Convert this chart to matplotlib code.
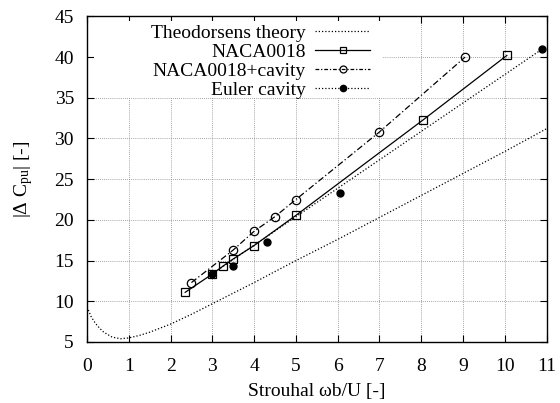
import matplotlib
matplotlib.use("Agg")
import matplotlib.pyplot as plt
from matplotlib.patches import Rectangle

plt.rcParams["font.family"] = ["Liberation Serif", "DejaVu Serif"]
plt.rcParams["mathtext.fontset"] = "custom"
plt.rcParams["mathtext.rm"] = "Liberation Serif"
plt.rcParams["mathtext.it"] = "Liberation Serif:italic"

# Theodorsen theory curve
theo_x = [0.0, 0.1, 0.2, 0.3, 0.4, 0.6, 0.8, 1.0, 1.25, 1.5, 2.0, 2.5, 3.0,
          4.0, 5.0, 6.0, 7.0, 8.0, 9.0, 10.0, 11.0]
theo_y = [9.3, 8.1, 7.3, 6.7, 6.2, 5.6, 5.4, 5.5, 5.8, 6.2, 7.2, 8.4, 9.7,
          12.3, 15.0, 17.6, 20.3, 23.0, 25.7, 28.4, 31.2]

# NACA0018
naca_x = [2.35, 3.0, 3.25, 3.5, 4.0, 5.0, 8.05, 10.05]
naca_y = [11.1, 13.35, 14.3, 15.2, 16.85, 20.55, 32.3, 40.2]

# NACA0018 + cavity
cav_x = [2.5, 3.5, 4.0, 4.5, 5.0, 7.0, 9.05]
cav_y = [12.3, 16.3, 18.6, 20.4, 22.5, 30.8, 40.0]

# Euler cavity points and its fitted line
euler_x = [3.0, 3.5, 4.3, 6.05, 10.9]
euler_y = [13.4, 14.35, 17.3, 23.3, 41.0]
euler_line_x = [3.0, 10.9]
euler_line_y = [13.4, 41.0]

FS = 14

fig = plt.figure(figsize=(5.6, 4.03), dpi=100)
ax = fig.add_axes([0.1554, 0.1514, 0.8205, 0.8079])
ax.set_axisbelow(True)

ax.plot(theo_x, theo_y, color="black", lw=0.9, ls=(0, (1, 1.6)), zorder=2)
ax.plot(naca_x, naca_y, color="black", lw=0.9, ls="-", zorder=2)
ax.plot(naca_x, naca_y, ls="none", marker="s", ms=6, mfc="none", mec="black",
        mew=0.9, zorder=3)
ax.plot(cav_x, cav_y, color="black", lw=0.9, ls=(0, (5, 2, 1, 2)), zorder=2)
ax.plot(cav_x, cav_y, ls="none", marker="o", ms=6, mfc="none", mec="black",
        mew=0.9, zorder=3)
ax.plot(euler_line_x, euler_line_y, color="black", lw=0.9, ls=(0, (1, 1.6)),
        zorder=2)
ax.plot(euler_x, euler_y, ls="none", marker="o", ms=5, color="black", zorder=3)

# legend entries (gnuplot style: text right aligned, sample on right)
h1, = ax.plot([], [], color="black", lw=0.9, ls=(0, (1, 1.6)))
h2, = ax.plot([], [], color="black", lw=0.9, ls="-", marker="s", ms=5,
              mfc="none", mec="black", mew=0.9)
h3, = ax.plot([], [], color="black", lw=0.9, ls=(0, (3, 1.5, 1, 1.5)),
              marker="o", ms=5, mfc="none", mec="black", mew=0.9)
h4, = ax.plot([], [], color="black", lw=0.9, ls=(0, (1, 1.6)), marker="o",
              ms=4.5)

# white box behind legend hides the grid
ax.add_patch(Rectangle((0.015, 0.749), 0.627, 0.237, transform=ax.transAxes,
                       facecolor="white", edgecolor="none", zorder=1))

leg = ax.legend([h1, h2, h3, h4],
                ["Theodorsens theory", "NACA0018", "NACA0018+cavity",
                 "Euler cavity"],
                loc="upper right", bbox_to_anchor=(0.616, 0.975),
                frameon=False, markerfirst=False, fontsize=FS,
                handlelength=2.83, handletextpad=0.46, labelspacing=0.07,
                borderpad=0, borderaxespad=0, numpoints=1)

ax.set_xlim(0, 11)
ax.set_ylim(5, 45)
ax.set_xticks(range(0, 12))
ax.set_yticks(range(5, 46, 5))
ax.tick_params(direction="in", length=5, width=0.8, top=True, right=True,
               labelsize=FS)
ax.tick_params(axis="x", pad=11.5)
ax.tick_params(axis="y", pad=9.4)
ax.grid(True, color="#888888", lw=0.6, ls=(0, (1, 1.5)))
for s in ax.spines.values():
    s.set_linewidth(1.0)

ax.set_xlabel("Strouhal ωb/U [-]", fontsize=FS, labelpad=6)
ax.set_ylabel(r"|Δ C$_{\mathrm{pu}}$| [-]", fontsize=FS, labelpad=14)

fig.savefig("out.png", dpi=100)
